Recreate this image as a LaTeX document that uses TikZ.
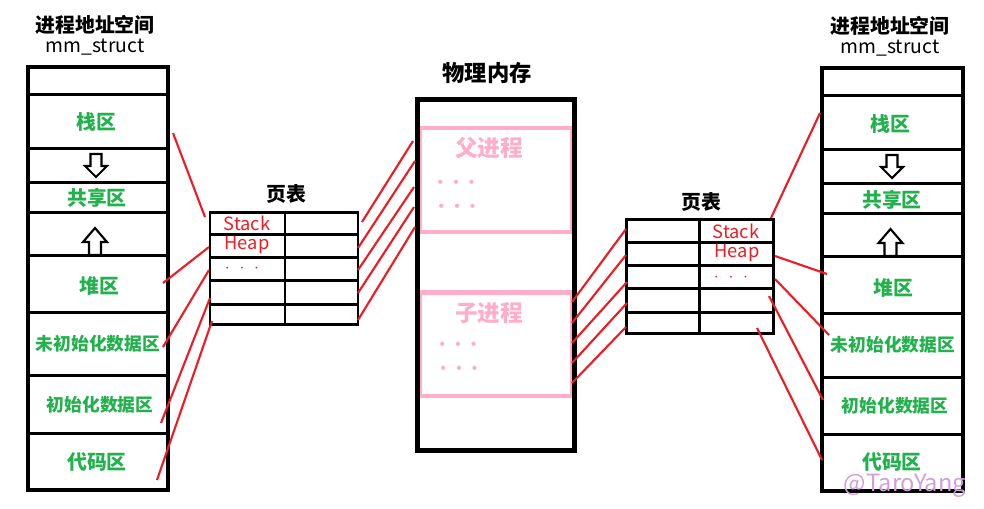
\documentclass[tikz,border=0pt]{standalone}
\usepackage{fontspec}
\setmainfont{Noto Sans CJK SC}
\usepackage{xcolor}
\definecolor{segGreen}{RGB}{34,177,76}
\definecolor{linkRed}{RGB}{237,28,36}
\definecolor{memPink}{RGB}{255,174,201}
\definecolor{markPurple}{RGB}{208,160,218}

\begin{document}
\begin{tikzpicture}[x=0.02cm, y=-0.02cm,
      heading/.style = {font=\bfseries\fontsize{11.3}{13}\selectfont, text=black, inner sep=0pt},
      bigheading/.style = {heading, font=\bfseries\fontsize{12.7}{15}\selectfont},
      subheading/.style = {font=\fontsize{11}{13}\selectfont, text=black, inner sep=0pt},
      frame/.style = {draw=black, line width=2.6pt},
      divider/.style = {draw=black, line width=1.7pt},
      segment/.style = {font=\bfseries\fontsize{11.3}{13}\selectfont, text=segGreen, inner sep=0pt},
      longsegment/.style = {segment, font=\bfseries\fontsize{10.1}{12}\selectfont},
      entry/.style = {font=\fontsize{10.4}{12}\selectfont, text=linkRed, inner sep=0pt},
      band/.style = {draw=memPink, line width=2.4pt},
      procname/.style = {font=\bfseries\fontsize{12.9}{15}\selectfont, text=memPink, inner sep=0pt},
      procdots/.style = {font=\fontsize{5}{6}\selectfont, text=memPink, inner sep=0pt},
      blockarrow/.style = {draw=black, line width=1.2pt, fill=white, line join=miter},
      link/.style = {draw=linkRed, line width=1.2pt}
    ]

    \useasboundingbox (0,0) rectangle (984,508);

    % left address space
    \node[heading]    (titleL) at (95,25) {进程地址空间};
    \node[subheading] (mmL)    at (95,47) {mm\_struct};
    \draw[frame] (28,67) rectangle (168,490);
    \draw[divider] (28,94.5)  -- (168,94.5);
    \draw[divider] (28,148)   -- (168,148);
    \draw[divider] (28,182)   -- (168,182);
    \draw[divider] (28,212)   -- (168,212);
    \draw[divider] (28,255)   -- (168,255);
    \draw[divider] (28,312.5) -- (168,312.5);
    \draw[divider] (28,375.5) -- (168,375.5);
    \draw[divider] (28,433)   -- (168,433);
    \draw[blockarrow, shift={(96,0)}] (-5.5,154) -- (5.5,154) -- (5.5,166) -- (11,166)
      -- (0,177) -- (-11,166) -- (-5.5,166) -- cycle;
    \draw[blockarrow, shift={(95,0)}] (0,228) -- (12,242) -- (6,242) -- (6,255)
      -- (-6,255) -- (-6,242) -- (-12,242) -- cycle;
    \node[segment]     (stackL) at (96,122)  {栈区};
    \node[segment]     (shareL) at (97,198)  {共享区};
    \node[segment]     (heapL)  at (99,286)  {堆区};
    \node[longsegment] (bssL)   at (98,344)  {未初始化数据区};
    \node[longsegment] (dataL)  at (100,405) {初始化数据区};
    \node[segment]     (codeL)  at (97,462)  {代码区};

    % right address space
    \node[heading]    (titleR) at (890,26) {进程地址空间};
    \node[subheading] (mmR)    at (890,48) {mm\_struct};
    \draw[frame] (822,68) rectangle (963,491);
    \draw[divider] (822,95.5) -- (963,95.5);
    \draw[divider] (822,149)  -- (963,149);
    \draw[divider] (822,183)  -- (963,183);
    \draw[divider] (822,213)  -- (963,213);
    \draw[divider] (822,256)  -- (963,256);
    \draw[divider] (822,313)  -- (963,313);
    \draw[divider] (822,377)  -- (963,377);
    \draw[divider] (822,434)  -- (963,434);
    \draw[blockarrow, shift={(892,0)}] (-5.5,155) -- (5.5,155) -- (5.5,167) -- (11,167)
      -- (0,178) -- (-11,167) -- (-5.5,167) -- cycle;
    \draw[blockarrow, shift={(890.5,0)}] (0,229) -- (12,243) -- (6,243) -- (6,256)
      -- (-6,256) -- (-6,243) -- (-12,243) -- cycle;
    \node[segment]     (stackR) at (890,124) {栈区};
    \node[segment]     (shareR) at (892,200) {共享区};
    \node[segment]     (heapR)  at (893,288) {堆区};
    \node[longsegment] (bssR)   at (893,345) {未初始化数据区};
    \node[longsegment] (dataR)  at (895,406) {初始化数据区};
    \node[segment]     (codeR)  at (892,462) {代码区};

    % page tables
    \node[heading] (ptTitleL) at (286,194) {页表};
    \draw[divider] (210,212) rectangle (358,324);
    \draw[divider] (285,212) -- (285,324);
    \draw[divider] (210,234) -- (358,234);
    \draw[divider] (210,257) -- (358,257);
    \draw[divider] (210,280) -- (358,280);
    \draw[divider] (210,304) -- (358,304);
    \node[entry] (stackEntL) at (247,223) {Stack};
    \node[entry] (heapEntL)  at (247,245) {Heap};
    \node[entry] (moreEntL)  at (242,269) {$\cdot\,\,\cdot\,\,\cdot$};

    \node[heading] (ptTitleR) at (701,202) {页表};
    \draw[divider] (626,219) rectangle (773,333);
    \draw[divider] (699,219) -- (699,333);
    \draw[divider] (626,242) -- (773,242);
    \draw[divider] (626,265) -- (773,265);
    \draw[divider] (626,288) -- (773,288);
    \draw[divider] (626,312) -- (773,312);
    \node[entry] (stackEntR) at (736,231) {Stack};
    \node[entry] (heapEntR)  at (737,253) {Heap};
    \node[entry] (moreEntR)  at (731,278) {$\cdot\,\,\cdot\,\,\cdot$};

    % physical memory
    \node[bigheading] (memTitle) at (487,73) {物理内存};
    \draw[draw=memPink, line width=0.6pt] (421,128) rectangle (571,232);
    \draw[draw=memPink, line width=0.6pt] (421,292.5) rectangle (571,396);
    \draw[band] (420,128)   -- (572,128);
    \draw[band] (420,232)   -- (572,232);
    \draw[band] (420,292.5) -- (572,292.5);
    \draw[band] (420,396)   -- (572,396);
    \draw[draw=black, line width=2.9pt] (417.5,99.5) rectangle (574.5,450.5);
    \node[procname] (parent) at (489,148) {父进程};
    \node[procdots] (parentDotsA) at (456,182) {$\bullet$\hspace{5.2pt}$\bullet$\hspace{5.2pt}$\bullet$};
    \node[procdots] (parentDotsB) at (457,206) {$\bullet$\hspace{5.2pt}$\bullet$\hspace{5.2pt}$\bullet$};
    \node[procname] (child) at (489,313) {子进程};
    \node[procdots] (childDotsA) at (458,344) {$\bullet$\hspace{5.2pt}$\bullet$\hspace{5.2pt}$\bullet$};
    \node[procdots] (childDotsB) at (459,368) {$\bullet$\hspace{5.2pt}$\bullet$\hspace{5.2pt}$\bullet$};

    % link ends
    \coordinate (segL1) at (173,133); \coordinate (ptInL1) at (205,217);
    \coordinate (segL2) at (163,283); \coordinate (ptInL2) at (209,247);
    \coordinate (segL3) at (163,347); \coordinate (ptInL3) at (209,270);
    \coordinate (segL4) at (161,423); \coordinate (ptInL4) at (210,298);
    \coordinate (segL5) at (157,480); \coordinate (ptInL5) at (212,321);

    \coordinate (ptOutL1) at (362,222); \coordinate (memL1) at (413,141);
    \coordinate (ptOutL2) at (358,248); \coordinate (memL2) at (415,161);
    \coordinate (ptOutL3) at (358,270); \coordinate (memL3) at (414,187);
    \coordinate (ptOutL4) at (358,293); \coordinate (memL4) at (414,207);
    \coordinate (ptOutL5) at (358,320); \coordinate (memL5) at (415,227);

    \coordinate (memR1) at (572,302); \coordinate (ptInR1) at (626,229);
    \coordinate (memR2) at (572,323); \coordinate (ptInR2) at (626,255);
    \coordinate (memR3) at (572,343); \coordinate (ptInR3) at (627,282);
    \coordinate (memR4) at (572,363); \coordinate (ptInR4) at (627,303);
    \coordinate (memR5) at (572,383); \coordinate (ptInR5) at (626,327);

    \coordinate (ptOutR1) at (771,218); \coordinate (segR1) at (820,113);
    \coordinate (ptOutR2) at (775,256); \coordinate (segR2) at (827,274);
    \coordinate (ptOutR3) at (775,279); \coordinate (segR3) at (829,335);
    \coordinate (ptOutR4) at (769,296); \coordinate (segR4) at (823,400);
    \coordinate (ptOutR5) at (757,328); \coordinate (segR5) at (822,460);

    \draw[link] (segL1) -- (ptInL1);
    \draw[link] (segL2) -- (ptInL2);
    \draw[link] (segL3) -- (ptInL3);
    \draw[link] (segL4) -- (ptInL4);
    \draw[link] (segL5) -- (ptInL5);

    \draw[link] (ptOutL1) -- (memL1);
    \draw[link] (ptOutL2) -- (memL2);
    \draw[link] (ptOutL3) -- (memL3);
    \draw[link] (ptOutL4) -- (memL4);
    \draw[link] (ptOutL5) -- (memL5);

    \draw[link] (memR1) -- (ptInR1);
    \draw[link] (memR2) -- (ptInR2);
    \draw[link] (memR3) -- (ptInR3);
    \draw[link] (memR4) -- (ptInR4);
    \draw[link] (memR5) -- (ptInR5);

    \draw[link] (ptOutR1) -- (segR1);
    \draw[link] (ptOutR2) -- (segR2);
    \draw[link] (ptOutR3) -- (segR3);
    \draw[link] (ptOutR4) -- (segR4);
    \draw[link] (ptOutR5) -- (segR5);

    \node[font=\fontsize{13.5}{15}\selectfont, text=markPurple, inner sep=0pt] (mark) at (905,486) {@TaroYang};

  \end{tikzpicture}
\end{document}
